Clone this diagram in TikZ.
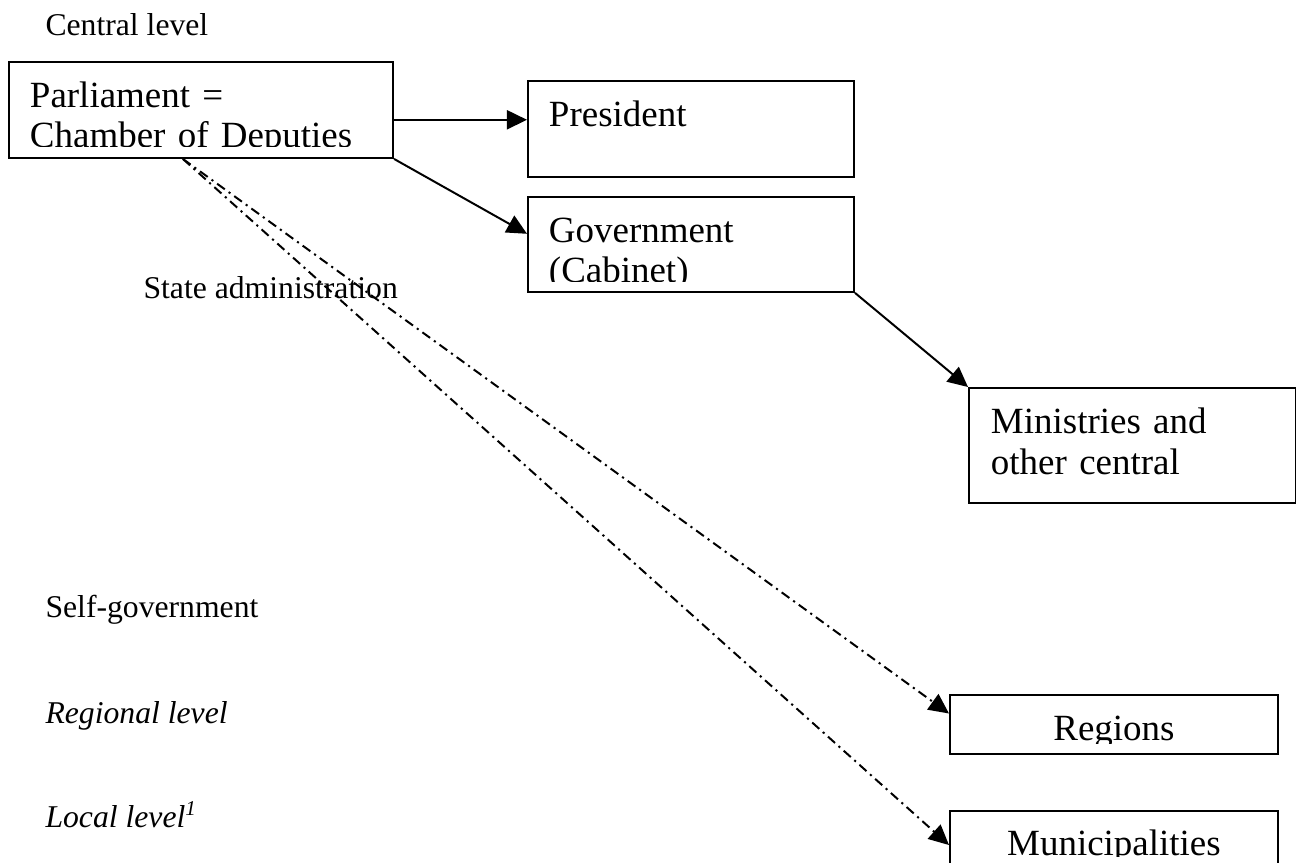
\documentclass[tikz,border=0pt]{standalone}
\usepackage{fontspec}
\setmainfont{Liberation Serif}
\usetikzlibrary{arrows.meta,calc}

\begin{document}
\begin{tikzpicture}[x=0.3788pt, y=-0.3788pt,
        lbl/.style={anchor=base west, inner sep=0pt, font=\fontsize{12}{14}\selectfont},
        ilbl/.style={lbl, font=\fontsize{12}{14}\selectfont\itshape},
        box/.style={draw, line width=0.75pt, anchor=north west, inner ysep=0pt, inner xsep=7.95pt, align=left, font=\fontsize{14}{15.4}\selectfont},
        cbox/.style={box, inner xsep=0pt, align=center, text width=124.2pt},
        cut/.style={fill=white},
        arr/.style={-{Triangle[length=7.6pt, width=7.2pt]}, line width=0.75pt},
        dashdot/.style={arr, dash pattern=on 3.6pt off 1.8pt on 0.8pt off 1.8pt}]
        \clip (0,0) rectangle (1296,862);
        \node [lbl] (central) at (45,35) {Central level};
        \node [lbl] (state) at (143,298) {State administration};
        \node [lbl] (self) at (45,617) {Self-government};
        \node [ilbl] (regional) at (45,723) {Regional level};
        \node [ilbl] (local) at (45,827) {Local level\textsuperscript{1}};
        \node [box, text width=129.6pt, text height=17.05pt, text depth=19.3pt] (parl) at (8,61) {Parliament =\\Chamber of Deputies};
        \node [box, text width=107.6pt, text height=17.4pt, text depth=18.9pt] (pres) at (527,80) {President};
        \node [box, text width=107.6pt, text height=17.05pt, text depth=18.9pt] (gov) at (527,196) {Government\\(Cabinet)};
        \node [box, inner xsep=8.33pt, text width=107.2pt, text height=17.4pt, text depth=26.1pt] (mini) at (968,387) {Ministries and\\other central};
        \node [cbox, text height=17.4pt, text depth=4.92pt] (reg) at (949,694) {Regions};
        \node [cbox, text height=16.67pt, text depth=5.68pt] (mun) at (949,810) {Municipalities};
        \fill [cut] ($(parl.south west)+(2,-12)$) rectangle ($(parl.south east)+(-2,-1.5)$);
        \fill [cut] ($(gov.south west)+(2,-11)$) rectangle ($(gov.south east)+(-2,-1.5)$);
        \fill [cut] ($(reg.south west)+(2,-11)$) rectangle ($(reg.south east)+(-2,-1.5)$);
        \fill [cut] ($(mun.south west)+(2,-14)$) rectangle ($(mun.south east)+(-2,-1.5)$);
        \coordinate (h) at ($(parl.north east)!0.6!(parl.south east)$);
        \coordinate (sa) at ($(parl.south west)!0.453!(parl.south east)$);
        \draw [arr] (h) -- (h -| pres.west);
        \draw [arr] (parl.south east) -- ($(gov.north west)!0.39!(gov.south west)$);
        \draw [arr] (gov.south east) -- (mini.north west);
        \draw [dashdot] (sa) -- ($(reg.north west)!0.32!(reg.south west)$);
        \draw [dashdot] (sa) -- ($(mun.north west)+(0,35)$);
\end{tikzpicture}
\end{document}
